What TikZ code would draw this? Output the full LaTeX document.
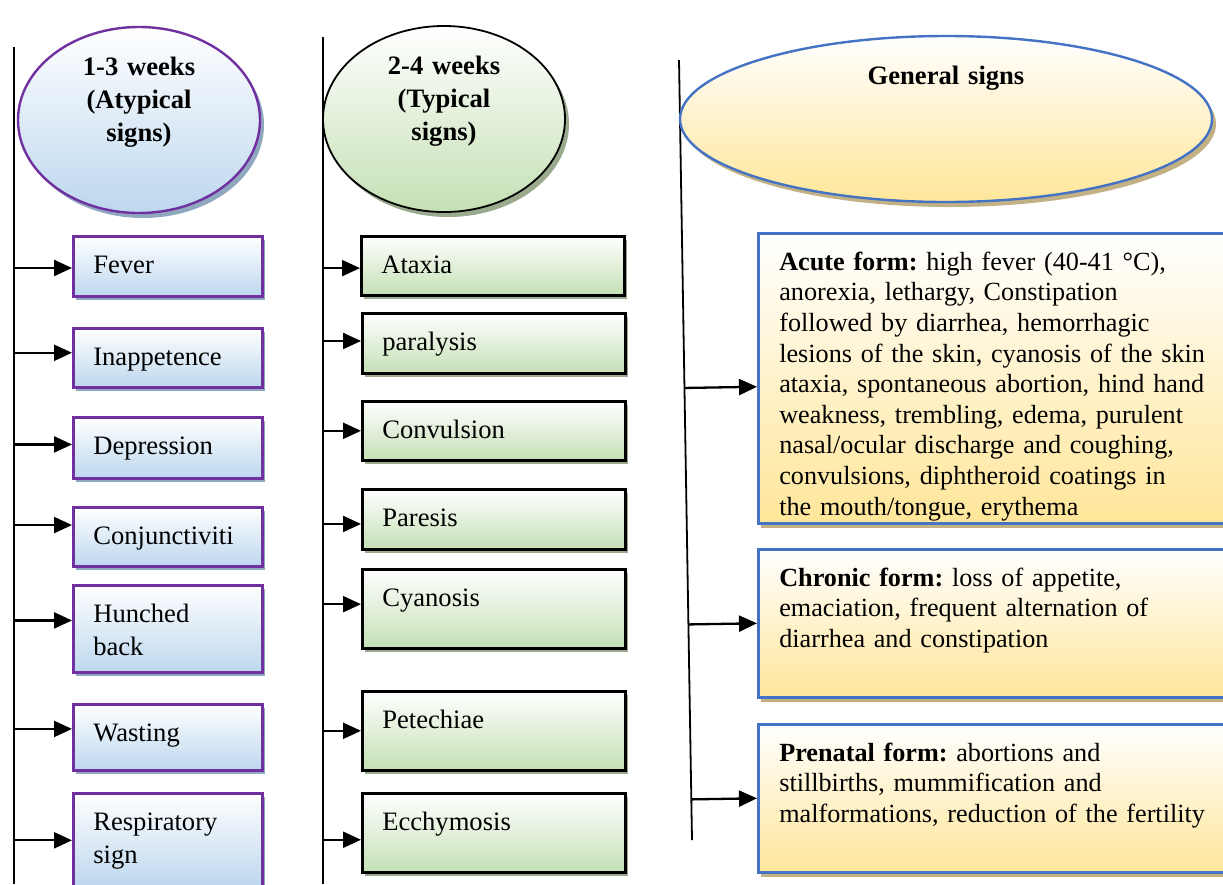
\documentclass[tikz,border=0pt]{standalone}
\usepackage{fontspec}
\setmainfont{Liberation Serif}
\usetikzlibrary{arrows.meta,shapes.geometric,shadows,calc}
\definecolor{lpurple}{HTML}{7030A0}
\definecolor{lblue}{HTML}{BDD7EE}
\definecolor{lshade}{HTML}{8FA7BF}
\definecolor{mgreen}{HTML}{C5E0B4}
\definecolor{mshade}{HTML}{9AAA8E}
\definecolor{rblue}{HTML}{4472C4}
\definecolor{rgold}{HTML}{FFE699}
\definecolor{rshade}{HTML}{C2B184}
\frenchspacing
\begin{document}
\begin{tikzpicture}[x=1pt,y=-1pt,
	arr/.style={-{Triangle[length=18pt,width=16pt]},line width=2.3pt},
	sign/.style={rectangle,anchor=north west,align=left,inner ysep=0pt,
		text height=37pt,text depth=#1,font=\fontsize{26.6}{33}\selectfont},
	lsign/.style={sign=#1,draw=lpurple,line width=2.6pt,top color=white,bottom color=lblue,
		drop shadow={shadow xshift=3pt,shadow yshift=-4pt,fill=lshade,opacity=1},
		text width=149pt,inner xsep=20pt},
	msign/.style={sign=#1,draw=black,line width=2.6pt,top color=white,bottom color=mgreen,
		drop shadow={shadow xshift=3pt,shadow yshift=-4pt,fill=mshade,opacity=1},
		text width=223pt,inner xsep=20pt},
	rsign/.style={sign=#1,draw=rblue,line width=2.6pt,top color=white,bottom color=rgold,
		drop shadow={shadow xshift=3pt,shadow yshift=-5pt,fill=rshade,opacity=1},
		text width=440pt,inner xsep=21pt,font=\fontsize{26.2}{30.6}\selectfont},
	week/.style={ellipse,line width=2.4pt,inner sep=0pt,minimum width=242pt,minimum height=186pt,
		align=center,text width=150pt,text height=15pt,text depth=105pt,
		font=\bfseries\fontsize{26.6}{33}\selectfont}]
	\useasboundingbox (0,0) rectangle (1223,884);
	% stems
	\coordinate (ltop) at (14,47);
	\coordinate (lbot) at (14,884);
	\coordinate (mtop) at (323,37);
	\coordinate (mbot) at (323,884);
	\coordinate (rtop) at (679,60);
	\coordinate (rbot) at (692,840);
	\draw[line width=2.2pt] (ltop) -- (lbot);
	\draw[line width=2.2pt] (mtop) -- (mbot);
	\draw[line width=1.8pt] (rtop) -- (rbot);
	% heads
	\node[week,draw=lpurple,top color=white,bottom color=lblue,
		drop shadow={shadow xshift=4pt,shadow yshift=-5pt,fill=lshade,opacity=1}]
		(atyp) at (139,120) {1-3 weeks\\(Atypical\\signs)};
	\node[week,draw=black,line width=1.8pt,top color=white,bottom color=mgreen,
		drop shadow={shadow xshift=4pt,shadow yshift=-5pt,fill=mshade,opacity=1}]
		(typ) at (444,119) {2-4 weeks\\(Typical\\signs)};
	\node[week,draw=rblue,top color=white,bottom color=rgold,minimum width=532pt,minimum height=166pt,
		text width=200pt,text depth=85pt,
		drop shadow={shadow xshift=4pt,shadow yshift=-5pt,fill=rshade,opacity=1}]
		(general) at (946,119) {General signs};
	% atypical signs
	\node[lsign=23pt] (fever) at (72,235) {Fever};
	\node[lsign=22pt] (inapp) at (72,327) {Inappetence};
	\node[lsign=24pt] (depress) at (72,416) {Depression};
	\node[lsign=22pt] (conj) at (72,506) {Conjunctiviti};
	\node[lsign=50pt] (hunched) at (72,584) {Hunched\\back};
	\node[lsign=29pt] (wasting) at (72,703) {Wasting};
	\node[lsign=57pt] (resp) at (72,792) {Respiratory\\sign};
	% typical signs
	\node[msign=22pt] (ataxia) at (360,235) {Ataxia};
	\node[msign=23pt] (paralysis) at (361,312) {paralysis};
	\node[msign=22pt] (convul) at (361,400) {Convulsion};
	\node[msign=23pt] (paresis) at (361,488) {Paresis};
	\node[msign=42pt] (cyanosis) at (361,568) {Cyanosis};
	\node[msign=42pt] (petech) at (361,690) {Petechiae};
	\node[msign=42pt] (ecchym) at (361,792) {Ecchymosis};
	% general signs
	\node[rsign=253pt] (acute) at (757,232) {\textbf{Acute form:} high fever (40-41 °C),\\
		anorexia, lethargy, Constipation\\
		followed by diarrhea, hemorrhagic\\
		lesions of the skin, cyanosis of the skin\\
		ataxia, spontaneous abortion, hind hand\\
		weakness, trembling, edema, purulent\\
		nasal/ocular discharge and coughing,\\
		convulsions, diphtheroid coatings in\\
		the mouth/tongue, erythema};
	\node[rsign=111pt] (chronic) at (757,548) {\textbf{Chronic form:} loss of appetite,\\
		emaciation, frequent alternation of\\
		diarrhea and constipation};
	\node[rsign=111pt] (prenatal) at (757,723) {\textbf{Prenatal form:} abortions and\\
		stillbirths, mummification and\\
		malformations, reduction of the fertility};
	% arrows
	\draw[arr] (ltop |- fever.181) -- (fever.181);
	\draw[arr] (ltop |- inapp.177) -- (inapp.177);
	\draw[arr] (ltop |- depress.178) -- (depress.178);
	\draw[arr] (ltop |- conj.173) -- (conj.173);
	\draw[arr] (ltop |- hunched.175) -- (hunched.175);
	\draw[arr] (ltop |- wasting.175) -- (wasting.175);
	\draw[arr] (ltop |- resp.180) -- (resp.180);
	\draw[arr] (mtop |- ataxia.181) -- (ataxia.181);
	\draw[arr] (mtop |- paralysis.179) -- (paralysis.179);
	\draw[arr] (mtop |- convul.180) -- (convul.180);
	\draw[arr] (mtop |- paresis.182) -- (paresis.182);
	\draw[arr] (mtop |- cyanosis.178) -- (cyanosis.178);
	\draw[arr] (mtop |- petech.180) -- (petech.180);
	\draw[arr] (mtop |- ecchym.183) -- (ecchym.183);
	\draw[arr] ($(rtop)!(acute.182)!(rbot)$) -- (acute.182);
	\draw[arr] ($(rtop)!(chronic.west)!(rbot)$) -- (chronic.west);
	\draw[arr] ($(rtop)!(prenatal.west)!(rbot)$) -- (prenatal.west);
\end{tikzpicture}
\end{document}
